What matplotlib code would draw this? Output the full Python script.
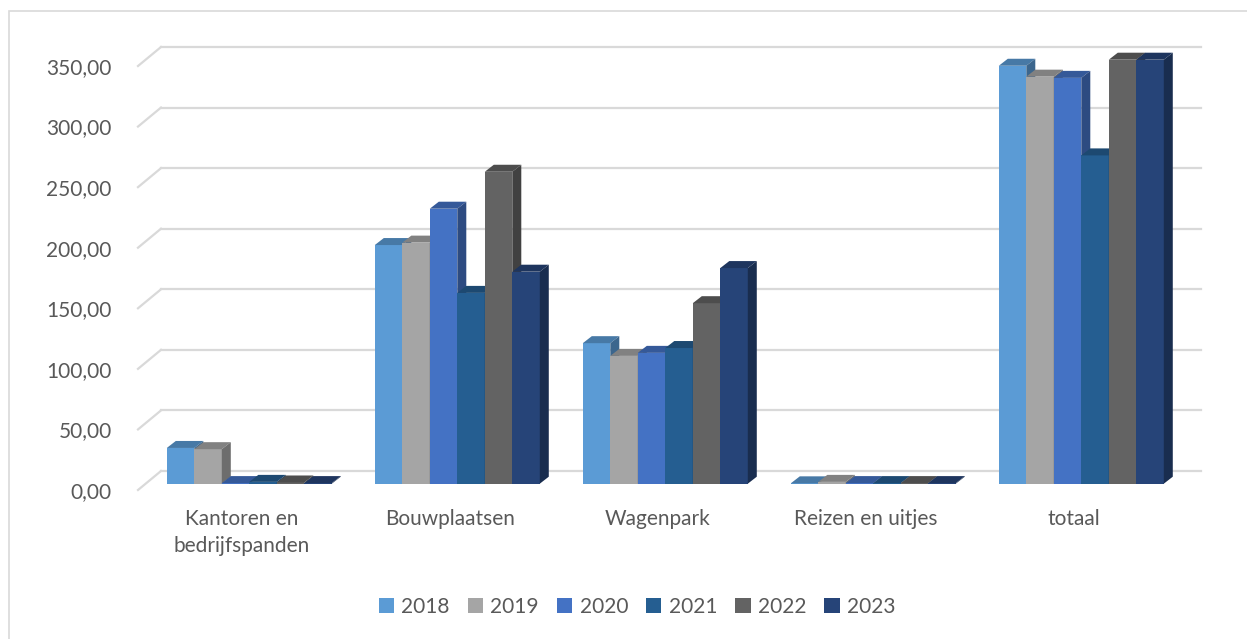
import numpy as np
import matplotlib.pyplot as plt
from matplotlib.patches import Polygon, Rectangle, Patch
from matplotlib.colors import to_rgb

plt.rcParams['font.family'] = ['Lato', 'DejaVu Sans']

categories = ['Kantoren en\nbedrijfspanden', 'Bouwplaatsen', 'Wagenpark', 'Reizen en uitjes', 'totaal']
years = ['2018', '2019', '2020', '2021', '2022', '2023']
values = {
    '2018': [29.5, 197.0, 116.0, 0.3, 345.0],
    '2019': [28.5, 199.0, 105.5, 1.5, 336.0],
    '2020': [0.5, 227.0, 108.0, 0.5, 335.0],
    '2021': [1.5, 157.5, 112.0, 0.5, 271.0],
    '2022': [1.0, 257.5, 149.0, 0.5, 350.0],
    '2023': [0.5, 175.0, 178.0, 0.5, 350.0],
}
colors = ['#5b9bd5', '#a5a5a5', '#4472c4', '#255e91', '#636363', '#264478']
yticks = [0, 50, 100, 150, 200, 250, 300, 350]

W, H = 1247, 639
fig = plt.figure(figsize=(W / 100, H / 100), dpi=100)
# front plane of the plot: x -0.5..4.5 -> px 138..1178, y 0..350 -> px 490..66
ax = fig.add_axes([138 / W, (H - 490) / H, 1040 / W, 424 / H])
ax.set_xlim(-0.5, 4.5)
ax.set_ylim(0, 350)

px_x = 5 / 1040.0          # data units per pixel (x)
px_y = 350 / 424.0         # data units per pixel (y)

wall_dx, wall_dy = 23 * px_x, 19 * px_y      # depth of the back wall
bar_sx, bar_sy = 8 * px_x, 6.3 * px_y        # bar front offset from front plane
bar_dx, bar_dy = 9 * px_x, 7 * px_y          # bar depth
bw = 0.1322

grid_c = '#d9d9d9'
for v in yticks:
    ax.plot([-0.5 + wall_dx, 4.5 + wall_dx], [v + wall_dy, v + wall_dy],
            color=grid_c, lw=1.6, clip_on=False, zorder=0)
    ax.plot([-0.5, -0.5 + wall_dx], [v, v + wall_dy],
            color=grid_c, lw=1.6, clip_on=False, zorder=0)

def shade(c, f):
    r, g, b = to_rgb(c)
    return (r * f, g * f, b * f)

x = np.arange(len(categories))
for i in range(len(categories)):
    for j, yr in enumerate(years):
        v = values[yr][i]
        left = i - 0.4 + j * bw + bar_sx
        base = bar_sy
        top = base + v
        c = colors[j]
        ax.add_patch(Rectangle((left, base), bw, v, facecolor=c, edgecolor='none',
                               clip_on=False, zorder=2))
        ax.add_patch(Polygon([(left, top), (left + bw, top),
                              (left + bw + bar_dx, top + bar_dy), (left + bar_dx, top + bar_dy)],
                             closed=True, facecolor=shade(c, 0.78), edgecolor='none',
                             clip_on=False, zorder=2))
        ax.add_patch(Polygon([(left + bw, base), (left + bw + bar_dx, base + bar_dy),
                              (left + bw + bar_dx, top + bar_dy), (left + bw, top)],
                             closed=True, facecolor=shade(c, 0.66), edgecolor='none',
                             clip_on=False, zorder=2))

for s in ax.spines.values():
    s.set_visible(False)
ax.set_yticks(yticks)
ax.set_yticklabels([f'{v:.2f}'.replace('.', ',') for v in yticks])
ax.set_xticks(x)
ax.set_xticklabels(categories, linespacing=1.4)
ax.tick_params(axis='y', length=0, pad=19, labelsize=15, labelcolor='#595959')
ax.tick_params(axis='x', length=0, pad=14, labelsize=15, labelcolor='#595959')
ax.patch.set_alpha(0)

handles = [Patch(facecolor=c, edgecolor='none') for c in colors]
fig.legend(handles, years, loc='center', bbox_to_anchor=(637 / W, 1 - 607 / H),
           ncol=6, frameon=False, fontsize=15, labelcolor='#595959',
           handlelength=0.75, handleheight=0.75, handletextpad=0.35, columnspacing=0.85)

fig.add_artist(Rectangle((9 / W, -0.05), 1.1, 1 - 11 / H + 0.05, transform=fig.transFigure,
                         facecolor='none', edgecolor='#d9d9d9', lw=1.2))

fig.savefig('out.png', dpi=100)
